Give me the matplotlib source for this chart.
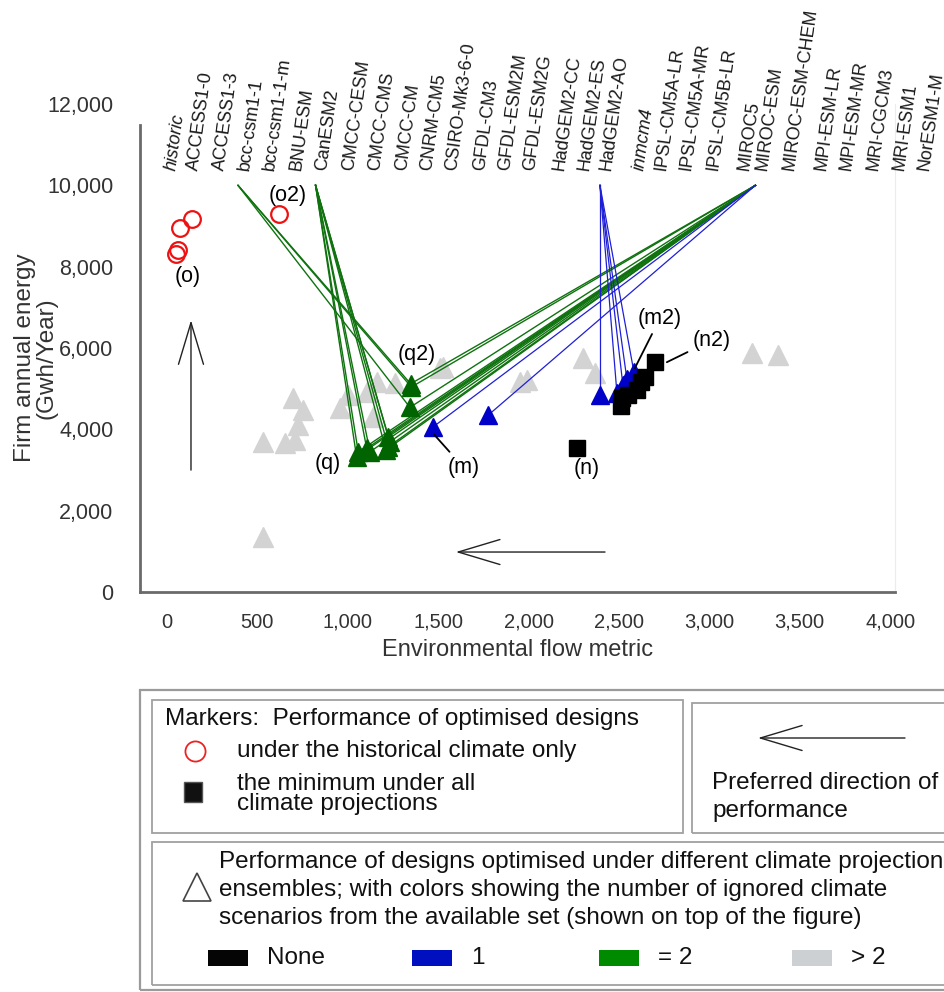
import matplotlib
matplotlib.use('Agg')
import matplotlib.pyplot as plt
from matplotlib.lines import Line2D
from matplotlib.patches import Rectangle, FancyArrowPatch

W, H = 945, 992
plt.rcParams['font.family'] = ['Liberation Sans', 'DejaVu Sans']
NARROW = ['Liberation Sans Narrow', 'Liberation Sans', 'DejaVu Sans']

# climate projections listed along the top
models = ['historic', 'ACCESS1-0', 'ACCESS1-3', 'bcc-csm1-1', 'bcc-csm1-1-m', 'BNU-ESM',
          'CanESM2', 'CMCC-CESM', 'CMCC-CMS', 'CMCC-CM', 'CNRM-CM5', 'CSIRO-Mk3-6-0',
          'GFDL-CM3', 'GFDL-ESM2M', 'GFDL-ESM2G', 'HadGEM2-CC', 'HadGEM2-ES', 'HadGEM2-AO',
          'inmcm4', 'IPSL-CM5A-LR', 'IPSL-CM5A-MR', 'IPSL-CM5B-LR', 'MIROC5', 'MIROC-ESM',
          'MIROC-ESM-CHEM', 'MPI-ESM-LR', 'MPI-ESM-MR', 'MRI-CGCM3', 'MRI-ESM1', 'NorESM1-M']
italic_models = ['historic', 'inmcm4']
# where each name sits along the x axis (layout)
label_x = [-11, 111, 254, 393, 531, 680, 822, 968, 1112, 1261, 1399, 1538, 1692, 1831, 1969,
           2135, 2273, 2395, 2577, 2699, 2837, 2987, 3158, 3255, 3407, 3584, 3722, 3872, 4015, 4154]
LINE_TOP = 10000

# optimised under historic climate only
hist_x = [137, 72, 59, 50, 621]
hist_y = [9182, 8960, 8403, 8305, 9305]

# > 2 ignored scenarios
gray_x = [533, 531, 653, 708, 725, 752, 699, 957, 1001, 1105, 1160, 1261, 1141, 1510, 1528,
          1952, 1989, 2303, 2367, 3234, 3381]
gray_y = [1359, 3693, 3668, 3735, 4103, 4472, 4759, 4521, 4840, 4921, 5167, 5128, 4307, 5504, 5536,
          5167, 5209, 5742, 5373, 5865, 5823]

# = 2 ignored scenarios
green_x = [1348, 1352, 1344, 1049, 1058, 1105, 1123, 1211, 1224, 1233, 1224]
green_y = [5120, 5040, 4540, 3324, 3447, 3531, 3447, 3489, 3570, 3693, 3816]
green_ignored = [['bcc-csm1-1', 'MIROC-ESM']] * 3 + [['CanESM2', 'MIROC-ESM']] * 8

# 1 ignored scenario
blue_x = [1473, 1777, 2395, 2489, 2522, 2544, 2583]
blue_y = [4062, 4349, 4840, 4889, 5086, 5234, 5406]
blue_ignored = [['MIROC-ESM']] * 2 + [['HadGEM2-AO']] * 5

# minimum under all projections
black_x = [2268, 2511, 2517, 2550, 2600, 2622, 2644, 2699]
black_y = [3538, 4570, 4767, 4840, 4963, 5160, 5283, 5651]

xticks = list(range(0, 4001, 500))
yticks = list(range(0, 12001, 2000))

GREEN = '#006400'
GREEN_L = '#0f720f'
BLUE = '#0000c8'
BLUE_L = '#1f1fd6'
GRAY = '#d3d3d3'

fig = plt.figure(figsize=(W / 100, H / 100), dpi=100)
ax = fig.add_axes([140 / W, 1 - 592 / H, 755 / W, 488 / H])
ax.set_xlim(-149, 4027)
ax.set_ylim(0, 12000)

ax.plot(gray_x, gray_y, '^', color=GRAY, ms=15, mec=GRAY, zorder=1)

for x, y, ign in zip(green_x, green_y, green_ignored):
    for m in ign:
        ax.plot([label_x[models.index(m)], x], [LINE_TOP, y], color=GREEN_L, lw=1.0, zorder=2)
for x, y, ign in zip(blue_x, blue_y, blue_ignored):
    for m in ign:
        ax.plot([label_x[models.index(m)], x], [LINE_TOP, y], color=BLUE_L, lw=0.9, zorder=2)

ax.plot(green_x, green_y, '^', color=GREEN, ms=13.5, zorder=3)
ax.plot(blue_x, blue_y, '^', color=BLUE, ms=13.5, zorder=3)
ax.plot(black_x, black_y, 's', color='black', ms=11, zorder=4)
ax.plot(hist_x, hist_y, 'o', mfc='none', mec='#ee1111', mew=1.6, ms=12, zorder=4)

for name, lx in zip(models, label_x):
    ax.text(lx + 35, 10380, name, rotation=82, rotation_mode='anchor', ha='left', va='center',
            fontsize=13, color='#1a1a1a', clip_on=False,
            style='italic' if name in italic_models else 'normal')

# point labels
pl = dict(ha='center', va='center', fontsize=15.5)
ax.text(116, 7764, '(o)', **pl)
ax.text(669, 9755, '(o2)', **pl)
ax.text(1381, 5848, '(q2)', **pl)
ax.text(887, 3162, '(q)', **pl)
ax.text(2321, 3040, '(n)', **pl)
lead = dict(arrowstyle='-', color='black', lw=1.3, shrinkA=2, shrinkB=0)
ax.annotate('(m)', xy=(1478, 3870), xytext=(1639, 3070), arrowprops=lead, **pl)
ax.annotate('(m2)', xy=(2588, 5504), xytext=(2727, 6732), arrowprops=lead, **pl)
ax.annotate('(n2)', xy=(2765, 5651), xytext=(3014, 6192), arrowprops=lead, **pl)

# preferred-direction arrows
arr = dict(arrowstyle='->, head_length=3.0, head_width=0.9', color='#222222', lw=1.0,
           mutation_scale=10, shrinkA=0, shrinkB=0)
ax.annotate('', xy=(133, 6683), xytext=(133, 2998), arrowprops=arr)
ax.annotate('', xy=(1598, 983), xytext=(2423, 983), arrowprops=arr)

ax.spines['top'].set_visible(False)
ax.spines['right'].set_color('#ececec')
ax.spines['left'].set_color('#6a6a6a')
ax.spines['left'].set_linewidth(2)
ax.spines['left'].set_bounds(0, 11480)
ax.spines['bottom'].set_color('#6a6a6a')
ax.spines['bottom'].set_linewidth(2)

ax.set_xticks(xticks, ['{:,}'.format(v) for v in xticks], family=NARROW, fontsize=14.5)
ax.set_yticks(yticks, ['{:,}'.format(v) for v in yticks], fontsize=15.5)
ax.tick_params(axis='both', length=0, colors='#333333')
ax.tick_params(axis='y', pad=19)
ax.tick_params(axis='x', pad=15)
ax.set_xlabel('Environmental flow metric', fontsize=17, family=NARROW, color='#333333', labelpad=5)
ax.text(-0.138, 0.48, 'Firm annual energy\n(Gwh/Year)', transform=ax.transAxes, rotation=90,
        ha='center', va='center', fontsize=17.5, color='#333333', linespacing=0.92)


# legend panel, drawn in figure pixels
def fx(x):
    return x / W


def fy(y):
    return 1 - y / H


def box(x0, y0, x1, y1, ec='#a0a0a0', lw=1.3):
    fig.add_artist(Rectangle((fx(x0), fy(y1)), fx(x1) - fx(x0), fy(y0) - fy(y1),
                             transform=fig.transFigure, fill=False, ec=ec, lw=lw))


box(140, 690, 960, 990, ec='#9a9a9a', lw=1.6)
box(152, 700, 683, 833)
box(692, 703, 960, 833)
box(152, 842, 960, 985)

lt = dict(transform=fig.transFigure, family=NARROW, fontsize=17.5, va='center', color='#111111')
fig.text(fx(165), fy(719), 'Markers:  Performance of optimised designs', **lt)
fig.add_artist(Line2D([fx(195)], [fy(751)], marker='o', ms=14.5, mfc='none', mec='#ee2222', mew=1.3,
                      transform=fig.transFigure))
fig.text(fx(237), fy(751), 'under the historical climate only', **lt)
fig.add_artist(Rectangle((fx(184), fy(802)), 18 / W, 20 / H, transform=fig.transFigure,
                         fc='#111111', ec='#555555', lw=1))
fig.text(fx(237), fy(784), 'the minimum under all', **lt)
fig.text(fx(237), fy(804), 'climate projections', **lt)

fig.add_artist(FancyArrowPatch((fx(905), fy(738)), (fx(758), fy(738)), transform=fig.transFigure,
                               arrowstyle=arr['arrowstyle'], color='#222222', lw=1.0,
                               mutation_scale=10, shrinkA=0, shrinkB=0))
fig.text(fx(712), fy(783), 'Preferred direction of', **lt)
fig.text(fx(712), fy(811), 'performance', **lt)

fig.add_artist(Line2D([fx(197)], [fy(887)], marker='^', ms=20, mfc='white', mec='#444444', mew=1.2,
                      transform=fig.transFigure))
fig.text(fx(219), fy(862), 'Performance of designs optimised under different climate projection', **lt)
fig.text(fx(219), fy(890), 'ensembles; with colors showing the number of ignored climate', **lt)
fig.text(fx(219), fy(918), 'scenarios from the available set (shown on top of the figure)', **lt)

swatches = [('None', '#050505', 208), ('1', '#0010c0', 412), ('= 2', '#008a00', 599), ('> 2', '#cdd0d2', 792)]
for txt, col, x0 in swatches:
    fig.add_artist(Rectangle((fx(x0), fy(966)), 40 / W, 16 / H, transform=fig.transFigure,
                             fc=col, ec='none'))
    fig.text(fx(x0 + 59), fy(958), txt, **lt)

fig.savefig('out.png', dpi=100)
